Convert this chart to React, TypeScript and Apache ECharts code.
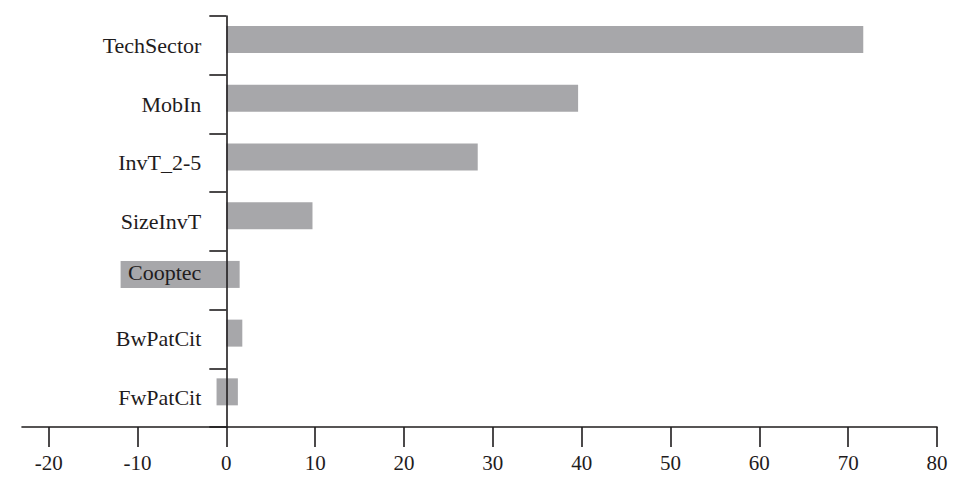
import React, { useEffect, useRef } from "react";
import * as echarts from "echarts";

const categories = ["TechSector", "MobIn", "InvT_2-5", "SizeInvT", "Cooptec", "BwPatCit", "FwPatCit"];
const positiveValues = [71.7, 39.6, 28.3, 9.7, 1.5, 1.8, 1.3];
const negativeValues = [0, 0, 0, 0, -11.9, 0, -1.1];
const spacerValues = [0, 0, 0, 0, 0, 0, 0];
const xTicks = [-20, -10, 0, 10, 20, 30, 40, 50, 60, 70, 80];
const X_MIN = -23;
const X_MAX = 80;

const INK = "#1f1c1d";
const BAR = "#a7a7aa";
const FONT = "'Liberation Serif', 'Times New Roman', serif";

const GRID_LEFT = 22;
const GRID_RIGHT = 17;
const WIDTH = 954;

export default function App() {
  const ref = useRef<HTMLDivElement>(null);
  useEffect(() => {
    if (!ref.current) return;
    const chart = echarts.init(ref.current, undefined, { renderer: "svg" });
    const gridW = WIDTH - GRID_LEFT - GRID_RIGHT;
    const zeroOffset = ((0 - X_MIN) / (X_MAX - X_MIN)) * gridW;
    chart.setOption({
      animation: false,
      backgroundColor: "#ffffff",
      grid: {
        left: GRID_LEFT,
        right: GRID_RIGHT,
        top: 16,
        bottom: 60,
        containLabel: false,
        outerBoundsMode: "none",
      },
      xAxis: {
        type: "value",
        min: X_MIN,
        max: X_MAX,
        splitLine: { show: false },
        axisLine: { show: true, lineStyle: { color: INK, width: 1.6 } },
        axisTick: {
          show: true,
          length: 20,
          customValues: xTicks,
          lineStyle: { color: INK, width: 1.6 },
        },
        axisLabel: {
          customValues: xTicks,
          margin: 25,
          fontSize: 21,
          fontFamily: FONT,
          color: INK,
        },
        z: 10,
      },
      yAxis: {
        type: "category",
        inverse: true,
        data: categories,
        offset: -zeroOffset,
        axisLine: { show: true, onZero: false, lineStyle: { color: INK, width: 1.6 } },
        axisTick: { show: true, length: 17, lineStyle: { color: INK, width: 1.6 } },
        axisLabel: {
          margin: 25,
          fontSize: 22,
          fontFamily: FONT,
          color: INK,
          formatter: (v: string) => (v === "Cooptec" ? "{up|" + v + "}" : v),
          rich: {
            up: {
              fontSize: 22,
              fontFamily: FONT,
              color: INK,
              padding: [0, 0, 15, 0],
            },
          },
        },
        splitLine: { show: false },
        z: 10,
      },
      series: [
        {
          type: "bar",
          stack: "v",
          data: positiveValues,
          barWidth: 27,
          barGap: 0,
          itemStyle: { color: BAR },
          silent: true,
        },
        {
          type: "bar",
          stack: "v",
          data: negativeValues,
          barWidth: 27,
          barGap: 0,
          itemStyle: { color: BAR },
          silent: true,
        },
        {
          type: "bar",
          stack: "spacer",
          data: spacerValues,
          barWidth: 11.6,
          barGap: 0,
          itemStyle: { color: "transparent" },
          silent: true,
        },
      ],
    });
    return () => chart.dispose();
  }, []);
  return (
    <div
      ref={ref}
      style={{ position: "fixed", left: 0, top: 0, width: 954, height: 487, background: "#fff" }}
    />
  );
}
